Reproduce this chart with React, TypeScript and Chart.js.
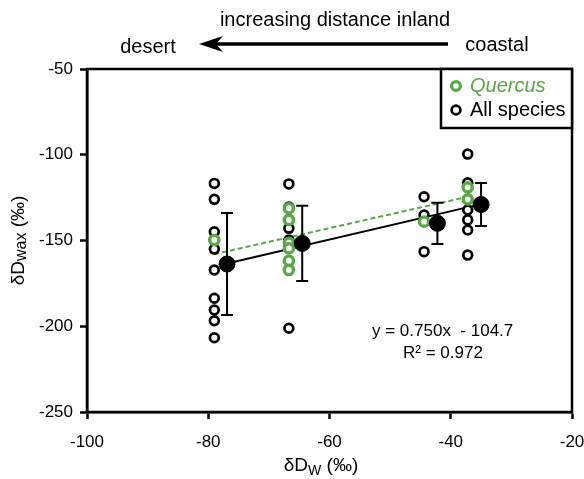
import React, { useEffect, useRef } from "react";
import { Chart, registerables } from "chart.js";

Chart.register(...registerables);

// ---- data ----
const siteX = [-79.0, -66.7, -44.4, -37.2];

const allSpecies1 = [-116.7, -126.0, -144.9, -149.7, -155.0, -167.2, -183.7, -190.5, -196.8, -206.7];
const allSpecies2 = [-117.0, -130.5, -142.9, -149.7, -201.2];
const allSpecies3 = [-124.5, -135.1, -156.5];
const allSpecies4 = [-99.6, -116.3, -132.2, -138.0, -143.9, -158.5];

const quercus1 = [-149.7];
const quercus2 = [-131.2, -138.0, -151.3, -154.6, -161.8, -167.2];
const quercus3 = [-139.0];
const quercus4 = [-119.0, -126.0];

const meanX = [-76.9, -64.5, -42.2, -35.0];
const meanY = [-163.7, -151.7, -140.0, -129.0];
const meanSD = [29.7, 21.9, 12.0, 12.5];

const allLineX = [-76.9, -35.0];
const allLineY = [-163.4, -128.8];
const quercusLineX = [-79.0, -37.2];
const quercusLineY = [-158.0, -124.5];

const xTicks = [-100, -80, -60, -40, -20];
const yTicks = [-250, -200, -150, -100, -50];

const GREEN = "#58a846";
const FONT = "'Liberation Sans', Arial, sans-serif";

function pts(x: number, ys: number[]) {
  return ys.map((y) => ({ x, y }));
}

const allSpeciesPts = [
  ...pts(siteX[0], allSpecies1),
  ...pts(siteX[1], allSpecies2),
  ...pts(siteX[2], allSpecies3),
  ...pts(siteX[3], allSpecies4),
];
const quercusPts = [
  ...pts(siteX[0], quercus1),
  ...pts(siteX[1], quercus2),
  ...pts(siteX[2], quercus3),
  ...pts(siteX[3], quercus4),
];
const meanPts = meanX.map((x, i) => ({ x, y: meanY[i] }));

function drawSub(
  ctx: CanvasRenderingContext2D,
  parts: { t: string; size: number; dy: number }[],
  cx: number,
  cy: number
) {
  let total = 0;
  for (const p of parts) {
    ctx.font = `${p.size}px ${FONT}`;
    total += ctx.measureText(p.t).width;
  }
  let x = cx - total / 2;
  ctx.textAlign = "left";
  ctx.textBaseline = "middle";
  for (const p of parts) {
    ctx.font = `${p.size}px ${FONT}`;
    ctx.fillText(p.t, x, cy + p.dy);
    x += ctx.measureText(p.t).width;
  }
}

const decorPlugin = {
  id: "decor",
  afterDatasetsDraw(chart: any) {
    const ctx: CanvasRenderingContext2D = chart.ctx;
    const xs = chart.scales.x;
    const ys = chart.scales.y;
    const ca = chart.chartArea;
    ctx.save();
    // error bars
    ctx.strokeStyle = "#000";
    ctx.lineWidth = 2;
    meanX.forEach((mx, i) => {
      const px = xs.getPixelForValue(mx);
      const top = ys.getPixelForValue(meanY[i] + meanSD[i]);
      const bot = ys.getPixelForValue(meanY[i] - meanSD[i]);
      ctx.beginPath();
      ctx.moveTo(px, top);
      ctx.lineTo(px, bot);
      ctx.moveTo(px - 6, top);
      ctx.lineTo(px + 6, top);
      ctx.moveTo(px - 6, bot);
      ctx.lineTo(px + 6, bot);
      ctx.stroke();
    });
    // plot box
    ctx.lineWidth = 2.5;
    ctx.strokeRect(ca.left, ca.top, ca.right - ca.left, ca.bottom - ca.top);

    // legend
    const lx = 441, ly = ca.top, lw = ca.right - 441, lh = 59;
    ctx.fillStyle = "#fff";
    ctx.fillRect(lx, ly, lw, lh);
    ctx.lineWidth = 2.5;
    ctx.strokeRect(lx, ly, lw, lh);
    ctx.lineWidth = 3.3;
    ctx.strokeStyle = GREEN;
    ctx.beginPath();
    ctx.arc(456, ly + 17, 4.4, 0, Math.PI * 2);
    ctx.stroke();
    ctx.strokeStyle = "#000";
    ctx.lineWidth = 2.7;
    ctx.beginPath();
    ctx.arc(456, ly + 41, 4.4, 0, Math.PI * 2);
    ctx.stroke();
    ctx.textAlign = "left";
    ctx.textBaseline = "middle";
    ctx.fillStyle = GREEN;
    ctx.font = `italic 20px ${FONT}`;
    ctx.fillText("Quercus", 470, ly + 17);
    ctx.fillStyle = "#000";
    ctx.font = `20px ${FONT}`;
    ctx.fillText("All species", 470, ly + 41);

    // regression text
    ctx.font = `17px ${FONT}`;
    ctx.textAlign = "left";
    ctx.fillText("y = 0.750x  - 104.7", 372, 331);
    ctx.fillText("R² = 0.972", 403, 353);

    // axis titles
    ctx.fillStyle = "#000";
    drawSub(
      ctx,
      [
        { t: "δD", size: 19, dy: 0 },
        { t: "W", size: 14, dy: 5 },
        { t: " (‰)", size: 19, dy: 0 },
      ],
      321,
      466
    );
    ctx.save();
    ctx.translate(19, (ca.top + ca.bottom) / 2);
    ctx.rotate(-Math.PI / 2);
    drawSub(
      ctx,
      [
        { t: "δD", size: 19, dy: 0 },
        { t: "wax", size: 16, dy: 3 },
        { t: " (‰)", size: 19, dy: 0 },
      ],
      0,
      0
    );
    ctx.restore();

    // top annotation
    ctx.font = `20px ${FONT}`;
    ctx.textAlign = "center";
    ctx.textBaseline = "middle";
    ctx.fillText("increasing distance inland", 335, 20);
    ctx.fillText("desert", 148, 47);
    ctx.fillText("coastal", 497, 45);
    ctx.strokeStyle = "#000";
    ctx.lineWidth = 3.5;
    ctx.beginPath();
    ctx.moveTo(448, 44);
    ctx.lineTo(212, 44);
    ctx.stroke();
    ctx.beginPath();
    ctx.moveTo(199, 44);
    ctx.lineTo(223, 36);
    ctx.lineTo(216, 44);
    ctx.lineTo(223, 52);
    ctx.closePath();
    ctx.fillStyle = "#000";
    ctx.fill();
    ctx.restore();
  },
};

export default function App() {
  const ref = useRef<HTMLCanvasElement>(null);
  useEffect(() => {
    if (!ref.current) return;
    const chart = new Chart(ref.current, {
      type: "scatter",
      data: {
        datasets: [
          {
            label: "Mean",
            data: meanPts,
            pointRadius: 8,
            pointBackgroundColor: "#000",
            pointBorderColor: "#000",
            pointBorderWidth: 1,
            showLine: false,
            order: 0,
          },
          {
            label: "Quercus",
            data: quercusPts,
            pointRadius: 4.6,
            pointBorderWidth: 3.4,
            pointBorderColor: GREEN,
            pointBackgroundColor: "#fff",
            showLine: false,
            order: 1,
          },
          {
            label: "All species",
            data: allSpeciesPts,
            pointRadius: 4.4,
            pointBorderWidth: 2.7,
            pointBorderColor: "#000",
            pointBackgroundColor: "#fff",
            showLine: false,
            order: 2,
          },
          {
            label: "All fit",
            type: "line",
            data: allLineX.map((x, i) => ({ x, y: allLineY[i] })),
            borderColor: "#000",
            borderWidth: 2,
            pointRadius: 0,
            order: 3,
          } as any,
          {
            label: "Quercus fit",
            type: "line",
            data: quercusLineX.map((x, i) => ({ x, y: quercusLineY[i] })),
            borderColor: GREEN,
            borderWidth: 2,
            borderDash: [5, 3],
            pointRadius: 0,
            order: 4,
          } as any,
        ],
      },
      options: {
        animation: false,
        responsive: true,
        maintainAspectRatio: false,
        layout: { padding: { top: 69, right: 12, left: 0, bottom: 0 } },
        plugins: { legend: { display: false }, tooltip: { enabled: false } },
        scales: {
          x: {
            type: "linear",
            min: -100,
            max: -20,
            afterBuildTicks: (s: any) => {
              s.ticks = xTicks.map((v) => ({ value: v }));
            },
            afterFit: (s: any) => {
              s.height = 67;
              s.paddingLeft = 0;
              s.paddingRight = 0;
            },
            ticks: {
              color: "#000",
              font: { family: FONT, size: 17 },
              padding: 13,
              maxRotation: 0,
            },
            grid: {
              drawOnChartArea: false,
              drawTicks: true,
              tickLength: 7,
              tickColor: "#000",
              tickWidth: 2.5,
            },
            border: { color: "#000", width: 2.5 },
          },
          y: {
            type: "linear",
            min: -250,
            max: -50,
            afterBuildTicks: (s: any) => {
              s.ticks = yTicks.map((v) => ({ value: v }));
            },
            afterFit: (s: any) => {
              s.width = 87;
              s.paddingTop = 0;
              s.paddingBottom = 0;
            },
            ticks: {
              color: "#000",
              font: { family: FONT, size: 17 },
              padding: 7,
            },
            grid: {
              drawOnChartArea: false,
              drawTicks: true,
              tickLength: 7,
              tickColor: "#000",
              tickWidth: 2.5,
            },
            border: { color: "#000", width: 2.5 },
          },
        },
      },
      plugins: [decorPlugin],
    });
    return () => chart.destroy();
  }, []);
  return (
    <div style={{ position: "fixed", left: 0, top: 0, width: 584, height: 479, background: "#fff" }}>
      <canvas ref={ref} />
    </div>
  );
}
